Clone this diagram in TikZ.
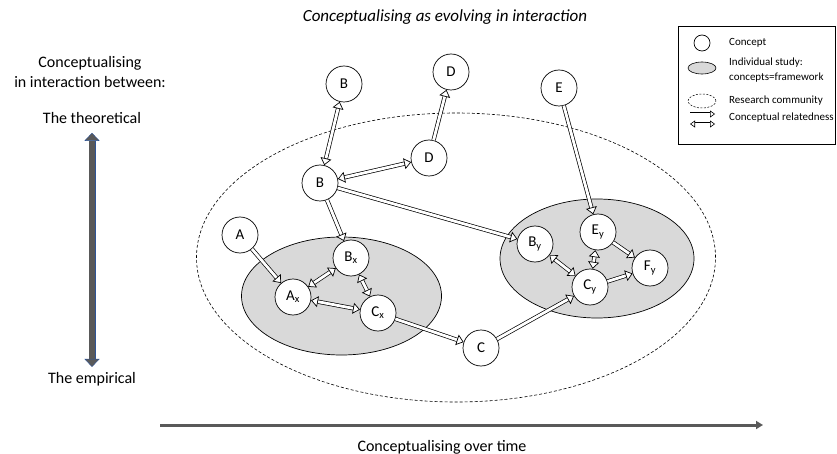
\documentclass[tikz,border=0pt]{standalone}
\usepackage{fontspec}
\setmainfont{Carlito}
\usepackage{xcolor}
\usepackage{tikz}
\usetikzlibrary{positioning, arrows.meta}

\definecolor{studygray}{RGB}{217,217,217}
\definecolor{axisgray}{RGB}{89,89,89}
\definecolor{axisblue}{RGB}{47,85,151}

\tikzset{
  concept/.style={circle, draw=black, fill=white, line width=0.7pt,
    minimum size=36pt, inner sep=0pt, font=\fontsize{15}{17}\selectfont},
  rel/.style={draw=black, double=white, double distance=2.8pt, line width=0.7pt,
    -{Triangle[length=7pt, width=11pt, fill=white, line width=0.7pt]}},
  birel/.style={rel, {Triangle[length=7pt, width=11pt, fill=white, line width=0.7pt]}-{Triangle[length=7pt, width=11pt, fill=white, line width=0.7pt]}},
  keyrel/.style={draw=black, double=white, double distance=1.8pt, line width=0.6pt,
    -{Triangle[length=5pt, width=7pt, fill=white, line width=0.6pt]}},
  keybirel/.style={keyrel, {Triangle[length=5pt, width=7pt, fill=white, line width=0.6pt]}-{Triangle[length=5pt, width=7pt, fill=white, line width=0.6pt]}},
  txt/.style={font=\fontsize{16}{20}\selectfont, inner sep=0pt},
  keytxt/.style={font=\fontsize{11}{15}\selectfont, inner sep=0pt, anchor=west, align=left},
}

\begin{document}
\begin{tikzpicture}[x=1pt, y=-1pt]
  \useasboundingbox (0,0) rectangle (837,454);

  % title and axes
  \node[txt, font=\fontsize{17}{20}\selectfont\itshape] (title) at (445,17) {Conceptualising as evolving in interaction};
  \node[txt, align=center] (inter) at (90,72) {Conceptualising\\in interaction between:};
  \node[txt] (theo) at (92,118) {The theoretical};
  \node[txt] (emp) at (92,379) {The empirical};
  \draw[draw=axisblue, double=axisgray, double distance=6.2pt, line width=0.4pt,
        {Triangle[length=8pt, width=15pt, fill=axisgray, color=axisblue, line width=0.4pt]}-{Triangle[length=8pt, width=15pt, fill=axisgray, color=axisblue, line width=0.4pt]},
        shorten <=9pt, shorten >=5pt] (theo) -- (emp);

  \coordinate (t0) at (160,425);
  \coordinate (t1) at (763,425);
  \draw[axisgray, line width=3pt, -{Triangle[length=7pt, width=8pt]}] (t0) -- (t1);
  \node[txt] (time) at (442,447) {Conceptualising over time};

  % research community and the two studies
  \draw[dashed, dash pattern=on 3pt off 2pt, line width=0.6pt] (456,257.5) ellipse [x radius=259.5pt, y radius=144.5pt];
  \draw[fill=studygray, line width=0.7pt] (341.5,296) ellipse [x radius=100pt, y radius=59pt];
  \draw[fill=studygray, line width=0.7pt] (597,258.5) ellipse [x radius=97pt, y radius=59.5pt];

  % concepts
  \node[concept] (Bt) at (344,84) {B};
  \node[concept] (Dt) at (451,72) {D};
  \node[concept] (E) at (559,88) {E};
  \node[concept] (Dm) at (429,158) {D};
  \node[concept] (Bm) at (320,183) {B};
  \node[concept] (A) at (240,235) {A};
  \node[concept] (Bx) at (351,258) {B\textsubscript{x}};
  \node[concept] (Ax) at (293,297) {A\textsubscript{x}};
  \node[concept] (Cx) at (378,313) {C\textsubscript{x}};
  \node[concept] (C) at (481,348) {C};
  \node[concept] (By) at (535,244) {B\textsubscript{y}};
  \node[concept] (Ey) at (598,232) {E\textsubscript{y}};
  \node[concept] (Fy) at (650,268) {F\textsubscript{y}};
  \node[concept] (Cy) at (590,287) {C\textsubscript{y}};

  % relatedness
  \draw[birel] (Bm) -- (Bt);
  \draw[birel] (Bm) -- (Dm);
  \draw[rel] (Dm) -- (Dt);
  \draw[rel] (Bm) -- (Bx);
  \draw[rel] (Bm) -- (By);
  \draw[rel] (A) -- (Ax);
  \draw[birel] (Ax) -- (Bx);
  \draw[birel] (Ax) -- (Cx);
  \draw[birel] (Bx) -- (Cx);
  \draw[rel] (Cx) -- (C);
  \draw[rel] (C) -- (Cy);
  \draw[rel] (E) -- (Ey);
  \draw[birel] (By) -- (Cy);
  \draw[birel] (Ey) -- (Cy);
  \draw[rel] (Ey) -- (Fy);
  \draw[rel] (Cy) -- (Fy);

  % key
  \draw[line width=0.8pt] (678,26) rectangle (835,144);
  \node[concept, minimum size=16pt] (kc) at (702,43) {};
  \draw[fill=studygray, line width=0.6pt] (702,68) ellipse [x radius=14pt, y radius=6pt];
  \draw[dashed, dash pattern=on 2pt off 1.5pt, line width=0.5pt] (702,101) ellipse [x radius=14pt, y radius=7pt];
  \coordinate (ka0) at (690,114);
  \coordinate (ka1) at (715,114);
  \coordinate (kb0) at (690,124);
  \coordinate (kb1) at (715,124);
  \draw[keyrel] (ka0) -- (ka1);
  \draw[keybirel] (kb0) -- (kb1);
  \node[keytxt] (kct) at (729,43) {Concept};
  \node[keytxt] (kst) at (729,70) {Individual study:\\concepts=framework};
  \node[keytxt] (krc) at (729,101) {Research community};
  \node[keytxt] (kcr) at (729,118) {Conceptual relatedness};
\end{tikzpicture}
\end{document}
